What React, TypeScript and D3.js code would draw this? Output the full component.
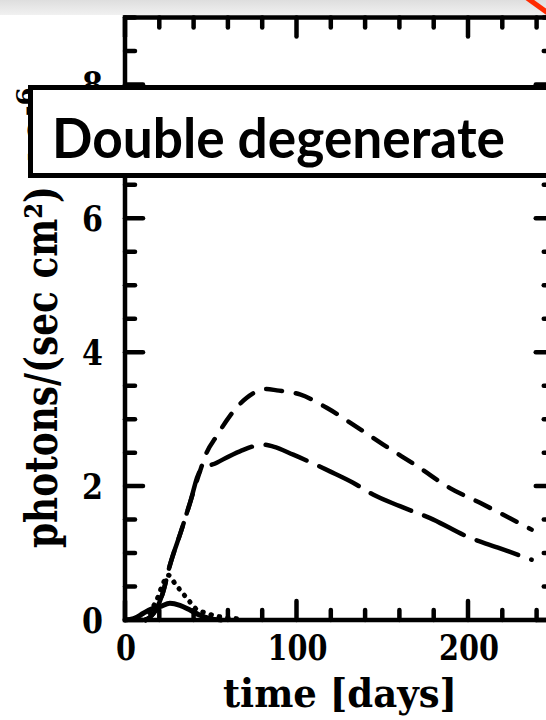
import React from "react";
import * as d3 from "d3";

// ---- data ----
const upperT = [12, 18, 22, 26.2, 33, 37.9, 43.7, 47.6, 53.5, 61.2, 71, 82.6, 88.5, 102, 117.6, 133, 150.6, 172, 189.5, 207, 224.5, 237.1];
const upperV = [0, 0.15, 0.4, 0.82, 1.35, 1.75, 2.22, 2.5, 2.75, 3.05, 3.32, 3.45, 3.43, 3.37, 3.17, 2.92, 2.62, 2.27, 1.97, 1.75, 1.52, 1.35];

const lowerT = [12, 18, 22, 26.2, 33, 37.9, 43.7, 53.5, 67, 80.6, 86.5, 98.1, 119.5, 133, 144.9, 160.3, 179.8, 199.2, 218.7, 237.1];
const lowerV = [0, 0.15, 0.4, 0.82, 1.35, 1.75, 2.22, 2.35, 2.52, 2.62, 2.59, 2.47, 2.22, 2.05, 1.87, 1.7, 1.5, 1.25, 1.07, 0.9];

const dottedT = [12, 16.5, 18.5, 22.3, 25.2, 29, 33, 36.9, 40.8, 47.6, 55, 65];
const dottedV = [0, 0.2, 0.3, 0.55, 0.67, 0.55, 0.42, 0.3, 0.18, 0.1, 0.05, 0.02];

const solidT = [0, 5, 10.7, 15, 20.4, 26.2, 32, 37.9, 43.7, 49.6, 56];
const solidV = [0, 0.02, 0.1, 0.16, 0.2, 0.25, 0.22, 0.15, 0.07, 0.02, 0];

const xTickLabels = [0, 100, 200];
const yTickLabels = [0, 2, 4, 6, 8];
const xMinorStep = 20;
const yMinorStep = 0.5;
const xDomain = [0, 250];
const yDomain = [0, 9];

const boxTitle = "Double degenerate";
const xTitle = "time [days]";
const yTitle = "photons/(sec cm²)";

const W = 546;
const H = 720;
const serif = "'DejaVu Serif', 'Liberation Serif', serif";

export default function App() {
  const x = d3.scaleLinear().domain(xDomain).range([125, 553.75]);
  const y = d3.scaleLinear().domain(yDomain).range([620, 17.5]);

  const mk = (ts: number[], vs: number[]) =>
    d3
      .line<number>()
      .x((_, i) => x(ts[i]))
      .y((_, i) => y(vs[i]))
      .curve(d3.curveMonotoneX)(ts as any) as string;

  const xMinor = d3.range(xDomain[0], xDomain[1] + 0.01, xMinorStep);
  const yMinor = d3.range(yDomain[0], yDomain[1] + 0.01, yMinorStep);
  const isXMajor = (v: number) => Math.abs(v % 100) < 1e-6;
  const isYMajor = (v: number) => Math.abs(v % 2) < 1e-6;

  const x0 = x(xDomain[0]);
  const x1 = x(xDomain[1]);
  const y0 = y(yDomain[0]);
  const y1 = y(yDomain[1]);
  const sw = 4.5;

  return (
    <svg
      width={W}
      height={H}
      viewBox={`0 0 ${W} ${H}`}
      style={{ position: "absolute", left: 0, top: 0, background: "#fff" }}
    >
      <defs>
        <linearGradient id="topbar" x1="0" y1="0" x2="0" y2="1">
          <stop offset="0" stopColor="#dedede" />
          <stop offset="1" stopColor="#f1f1f1" />
        </linearGradient>
      </defs>
      <rect x={0} y={0} width={W} height={H} fill="#fff" />
      <rect x={0} y={0} width={W} height={15} fill="url(#topbar)" />
      <line x1={527} y1={-2} x2={548} y2={13} stroke="#ff2a00" strokeWidth={5} />

      {/* frame */}
      <g stroke="#000" strokeWidth={sw} strokeLinecap="round" fill="none">
        <rect x={x0} y={y1} width={x1 - x0} height={y0 - y1} strokeLinecap="butt" />
        {xMinor.map((v) => {
          const len = isXMajor(v) ? 19 : 10;
          return (
            <g key={"xt" + v}>
              <line x1={x(v)} x2={x(v)} y1={y0} y2={y0 - len} />
              <line x1={x(v)} x2={x(v)} y1={y1} y2={y1 + len} />
            </g>
          );
        })}
        {yMinor.map((v) => {
          const len = isYMajor(v) ? 18 : 10;
          return (
            <g key={"yt" + v}>
              <line x1={x0} x2={x0 + len} y1={y(v)} y2={y(v)} />
              <line x1={x1} x2={x1 - len} y1={y(v)} y2={y(v)} />
            </g>
          );
        })}
      </g>

      {/* curves */}
      <g fill="none" stroke="#000" strokeWidth={4.5} strokeLinecap="round" strokeLinejoin="round">
        <path d={mk(solidT, solidV)} strokeWidth={5} />
        <path d={mk(dottedT, dottedV)} strokeDasharray="0.5 8" strokeWidth={5} />
        <path d={mk(lowerT, lowerV)} strokeDasharray="44 14" />
        <path d={mk(upperT, upperV)} strokeDasharray="16 14" />
      </g>

      {/* tick labels */}
      <g fontFamily={serif} fontWeight="bold" fontSize={36} fill="#000">
        {xTickLabels.map((v) => (
          <text
            key={"xl" + v}
            x={x(v) + 1}
            y={660}
            textAnchor="middle"
            textLength={20 * String(v).length}
            lengthAdjust="spacingAndGlyphs"
          >
            {v}
          </text>
        ))}
        {yTickLabels.map((v) => (
          <text
            key={"yl" + v}
            x={103}
            y={y(v) + 13}
            textAnchor="end"
            textLength={21 * String(v).length}
            lengthAdjust="spacingAndGlyphs"
          >
            {v}
          </text>
        ))}
      </g>

      {/* axis titles */}
      <text
        x={340}
        y={707}
        textAnchor="middle"
        fontFamily={serif}
        fontWeight="bold"
        fontSize={40}
        textLength={234}
        lengthAdjust="spacingAndGlyphs"
      >
        {xTitle}
      </text>
      <g transform="translate(57,548) rotate(-90)">
        <text
          x={0}
          y={0}
          fontFamily={serif}
          fontWeight="bold"
          fontSize={44}
          textLength={362}
          lengthAdjust="spacingAndGlyphs"
        >
          {yTitle}
        </text>
      </g>
      <g transform="translate(57,172) rotate(-90)">
        <text x={0} y={0} fontFamily={serif} fontWeight="bold" fontSize={40}>
          10
          <tspan dy={-22} fontSize={26}>
            -6
          </tspan>
        </text>
      </g>

      {/* title box */}
      <rect x={30.5} y={87.5} width={560} height={88} fill="#fff" stroke="#000" strokeWidth={5} />
      <text
        x={52}
        y={158}
        fontFamily="Lato, 'Open Sans', sans-serif"
        fontWeight="bold"
        fontSize={55}
        textLength={453}
        lengthAdjust="spacingAndGlyphs"
        fill="#000"
      >
        {boxTitle}
      </text>
    </svg>
  );
}
